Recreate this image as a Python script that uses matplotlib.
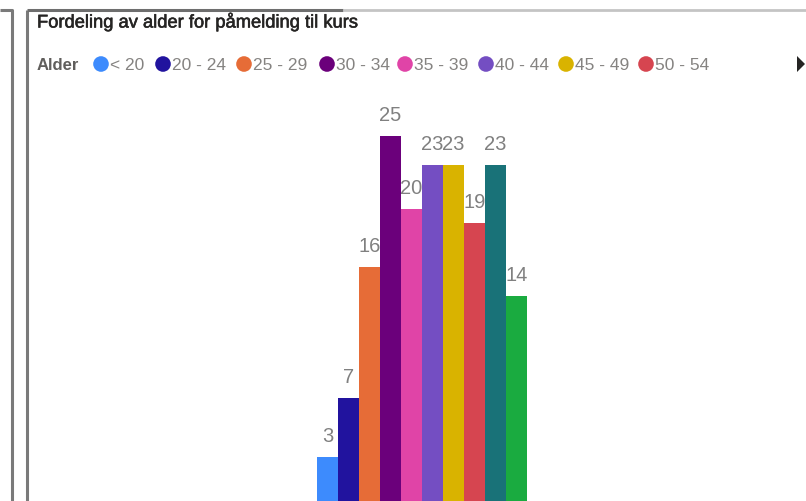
import matplotlib.pyplot as plt
import matplotlib.patheffects as pe
from matplotlib.patches import Circle, Polygon

# data
age_groups = ["< 20", "20 - 24", "25 - 29", "30 - 34", "35 - 39",
              "40 - 44", "45 - 49", "50 - 54", "55 - 59", "60 - 64"]
counts = [3, 7, 16, 25, 20, 23, 23, 19, 23, 14]
colors = ["#3D8BFD", "#21139E", "#E66C37", "#6B007B", "#E044A7",
          "#744EC2", "#D9B300", "#D64550", "#197278", "#1AAB40"]
title = "Fordeling av alder for påmelding til kurs"
legend_title = "Alder"

W, H = 806, 501
FONT = ["Liberation Sans", "DejaVu Sans"]

fig = plt.figure(figsize=(W / 100, H / 100), dpi=100)
fig.patch.set_facecolor("white")

# overlay in pixel coordinates (frames, title, legend)
ov = fig.add_axes([0, 0, 1, 1])
ov.set_xlim(0, W)
ov.set_ylim(H, 0)
ov.axis("off")

# frame lines
ov.plot([0, 12, 12], [10, 10, H], color="#7a7a7a", lw=2.2, solid_capstyle="butt")
ov.plot([27, 27], [10, H], color="#7a7a7a", lw=2.2, solid_capstyle="butt")
ov.plot([27, 343], [10, 10], color="#6e6e6e", lw=2.2, solid_capstyle="butt")
ov.plot([343, W], [10, 10], color="#c4c4c4", lw=2.0, solid_capstyle="butt")

ov.text(37, 22, title, fontsize=13.2, color="#252423", family=FONT,
        ha="left", va="center",
        path_effects=[pe.withStroke(linewidth=0.4, foreground="#252423")])

# legend
ov.text(37, 65, legend_title, fontsize=12, color="#605E5C", family=FONT,
        fontweight="bold", ha="left", va="center")
leg_x = [101, 163, 244, 327, 405, 486, 566, 646]
for x, lab, c in zip(leg_x, age_groups, colors):
    ov.add_patch(Circle((x, 64), 7.8, color=c, lw=0))
    ov.text(x + 9, 65, lab, fontsize=12.5, color="#858381", family=FONT,
            ha="left", va="center")
ov.add_patch(Polygon([[797, 56], [797, 72], [805, 64]], closed=True, color="#252423", lw=0))

# bars
px_per_unit = 14.59
base_y = 500.5
top_y = 100
ymax = (base_y - top_y) / px_per_unit
ax = fig.add_axes([317 / W, (H - base_y) / H, 210 / W, (base_y - top_y) / H])
ax.set_xlim(-0.5, len(counts) - 0.5)
ax.set_ylim(0, ymax)
ax.axis("off")
xs = range(len(counts))
ax.bar(xs, counts, width=1.0, color=colors, linewidth=0)
for x, v in zip(xs, counts):
    ax.annotate(str(v), (x, v), xytext=(0, 10.8), textcoords="offset points",
                ha="center", va="baseline", fontsize=14.5, color="#808080",
                family=FONT, annotation_clip=False)

fig.savefig("out.png", dpi=100)
